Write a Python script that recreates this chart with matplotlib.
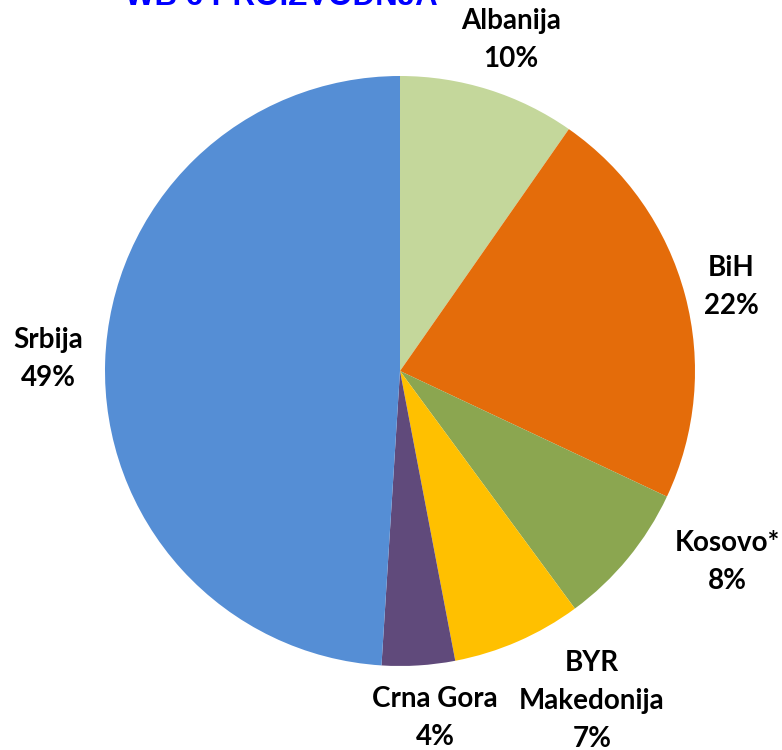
import matplotlib
matplotlib.use("Agg")
import matplotlib.pyplot as plt
import numpy as np

categories = ["Albanija", "BiH", "Kosovo*", "BYR\nMakedonija", "Crna Gora", "Srbija"]
values = [9.7, 22.3, 7.9, 7.1, 4.0, 49.0]
pct_labels = ["10%", "22%", "8%", "7%", "4%", "49%"]
colors = ["#C4D79B", "#E46C0A", "#8BA650", "#FFC000", "#604A7B", "#558ED5"]
title = "WB 6 PROIZVODNJA"

W, H = 782, 750
R = 295.0
cx, cy = 400.0, 371.0

# label centres (pixels from top-left), layout only
label_px = [(511, 40), (731, 287), (727, 562), (592, 701), (435, 718), (48, 359)]

fig = plt.figure(figsize=(W / 100, H / 100), dpi=100)
ax = fig.add_axes([0, 0, 1, 1])

wedges, _ = ax.pie(values, colors=colors, startangle=90, counterclock=False,
                   radius=1.0, center=(0, 0), frame=True,
                   wedgeprops=dict(linewidth=0))
ax.set_xlim(-cx / R, (W - cx) / R)
ax.set_ylim(-(H - cy) / R, cy / R)
ax.axis("off")

font = dict(family=["Lato", "DejaVu Sans"], fontweight="bold", fontsize=20, color="black")
for name, p, (px, py) in zip(categories, pct_labels, label_px):
    ax.text(px / W, 1 - py / H, f"{name}\n{p}", transform=fig.transFigure,
            ha="center", va="center", linespacing=1.55, **font)

fig.text(281 / W, 1 - 5 / H, title, ha="center", va="baseline",
         fontsize=22.5, fontweight="bold", color="#0000FF",
         family=["Liberation Sans", "DejaVu Sans"])

fig.savefig("out.png", dpi=100)
